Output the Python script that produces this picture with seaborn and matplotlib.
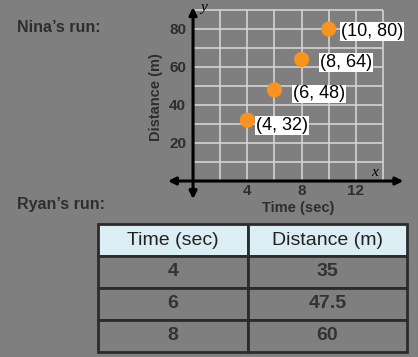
import matplotlib
matplotlib.use("Agg")
import matplotlib.pyplot as plt
import seaborn as sns
import pandas as pd

# Nina's run (graph)
nina_time = [4, 6, 8, 10]
nina_dist = [32, 48, 64, 80]
nina_labels = ["(4, 32)", "(6, 48)", "(8, 64)", "(10, 80)"]

# Ryan's run (table)
ryan_cols = ["Time (sec)", "Distance (m)"]
ryan_time = ["4", "6", "8"]
ryan_dist = ["35", "47.5", "60"]

x_ticks = [4, 8, 12]
y_ticks = [20, 40, 60, 80]

BG = "#7f7f7f"
DARK = "#2e2e2e"
plt.rcParams["font.family"] = ["Liberation Sans", "DejaVu Sans"]

W, H = 418, 357
fig = plt.figure(figsize=(W / 100, H / 100), dpi=100, facecolor=BG)

# pixel -> figure fraction helper
def box(l, t, r, b):
    return [l / W, 1 - b / H, (r - l) / W, (b - t) / H]

# ---------------- graph
ax = fig.add_axes(box(165.9, 6.2, 406.1, 200.0))
ax.set_facecolor(BG)
ax.set_xlim(-2, 15.7)
ax.set_ylim(-10, 92)

ax.vlines(range(0, 15, 2), 0, 90, color="#d4d4d4", lw=1.2, zorder=1)
ax.hlines(range(10, 91, 10), 0, 14, color="#d4d4d4", lw=1.2, zorder=1)

arr = dict(arrowstyle="<|-|>", color="black", lw=2.2, mutation_scale=11,
           shrinkA=0, shrinkB=0)
ax.annotate("", xy=(15.5, 0), xytext=(-1.85, 0), arrowprops=arr, zorder=3)
ax.annotate("", xy=(0, 91.5), xytext=(0, -9.5), arrowprops=arr, zorder=3)

df = pd.DataFrame({"time": nina_time, "dist": nina_dist})
sns.scatterplot(data=df, x="time", y="dist", ax=ax, color="#f7931e", s=120,
                edgecolor="none", zorder=4)

offsets = [(6, -4), (13, -3), (13, -2.5), (9, -2)]
for xv, yv, lab, off in zip(nina_time, nina_dist, nina_labels, offsets):
    ax.annotate(lab, (xv, yv), xytext=off, textcoords="offset points",
                ha="left", va="center", fontsize=13, color="black", zorder=5,
                bbox=dict(boxstyle="square,pad=0.05", fc="white", ec="none"))

for spine in ax.spines.values():
    spine.set_visible(False)
ax.spines["left"].set_position(("data", 0))
ax.spines["bottom"].set_position(("data", 0))
ax.set_xticks(x_ticks)
ax.set_yticks(y_ticks)
ax.tick_params(length=0, labelsize=11, labelcolor=DARK)
ax.tick_params(axis="y", pad=5)
ax.tick_params(axis="x", pad=2)
for t in ax.get_xticklabels() + ax.get_yticklabels():
    t.set_fontweight("bold")

ax.set_xlabel("Time (sec)", fontsize=10.5, fontweight="bold", color=DARK)
ax.set_ylabel("Distance (m)", fontsize=10.5, fontweight="bold", color=DARK)
ax.xaxis.set_label_coords(0.55, -0.005)
ax.yaxis.set_label_coords(-0.012, 0.53)

ax.text(0.5, 91.5, "y", fontsize=11, style="italic", family="Liberation Serif",
        color="black", va="center")
ax.text(13.1, 4.5, "x", fontsize=11, style="italic", family="Liberation Serif",
        color="black", va="center")

fig.text(17 / W, 1 - 28 / H, "Nina\u2019s run:", fontsize=11.5, fontweight="bold",
         color=DARK, va="center")
fig.text(17 / W, 1 - 205 / H, "Ryan\u2019s run:", fontsize=11.5, fontweight="bold",
         color=DARK, va="center")

# ---------------- table
tax = fig.add_axes(box(98, 224, 407, 352))
tax.axis("off")
cells = [[a, b] for a, b in zip(ryan_time, ryan_dist)]
tbl = tax.table(cellText=cells, colLabels=ryan_cols, bbox=[0, 0, 1, 1],
                cellLoc="center", colWidths=[150, 159])
tbl.auto_set_font_size(False)
for (r, c), cell in tbl.get_celld().items():
    cell.set_edgecolor("#2b2b2b")
    cell.set_linewidth(2)
    txt = cell.get_text()
    if r == 0:
        cell.set_facecolor("#dbeef4")
        txt.set_color("#222222")
        txt.set_fontsize(14)
    else:
        cell.set_facecolor(BG)
        txt.set_color("#333333")
        txt.set_fontweight("bold")
        txt.set_fontsize(14)

fig.savefig("out.png", dpi=100, facecolor=BG)
